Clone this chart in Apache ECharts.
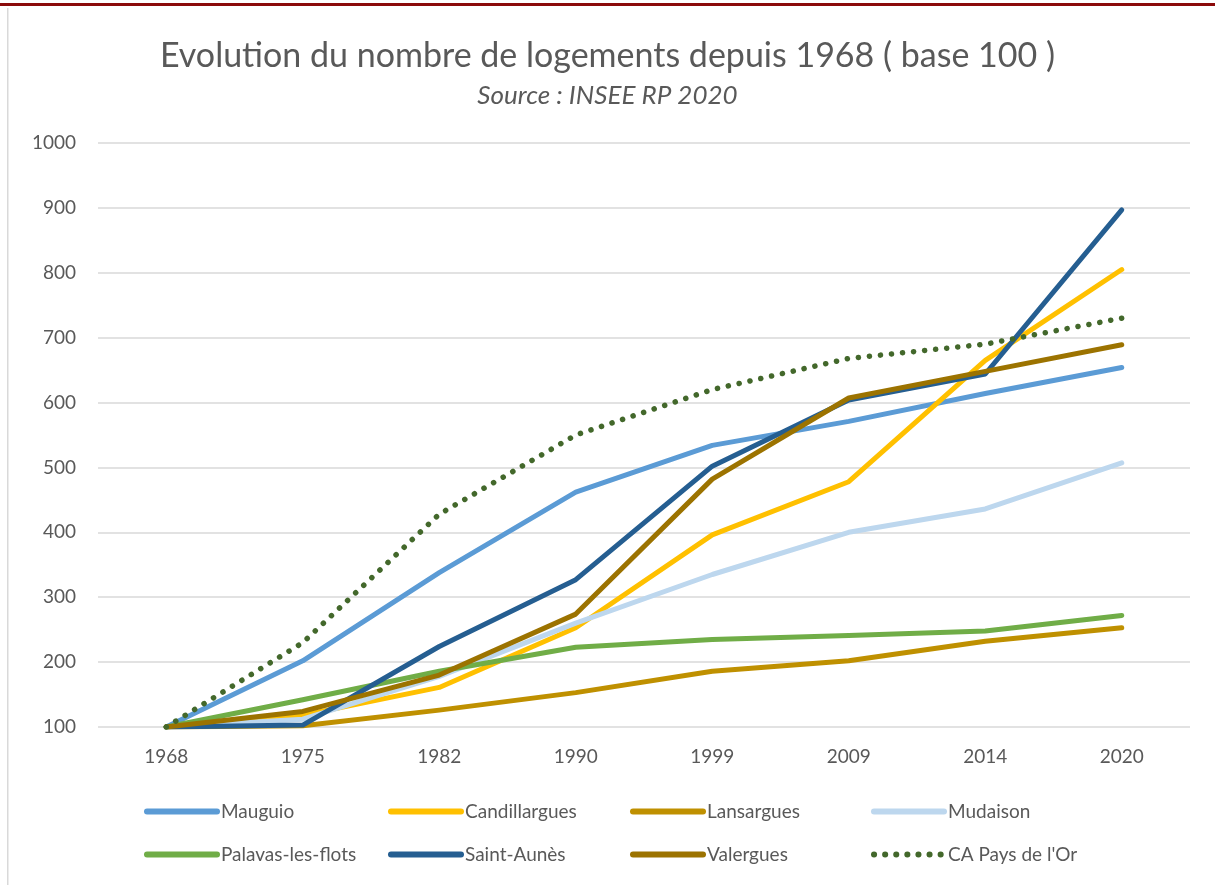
<!DOCTYPE html>
<html lang="fr">
<head>
    <meta charset="UTF-8">
    <title>Evolution du nombre de logements</title>
    <style>
        html, body { margin: 0; padding: 0; background: #fff; }
        #chart { width: 1215px; height: 885px; }
    </style>
</head>
<body>
<div id="chart"></div>
<script src="https://cdn.jsdelivr.net/npm/echarts@6/dist/echarts.min.js"></script>
<script>
    // années du recensement
    const years = ['1968', '1975', '1982', '1990', '1999', '2009', '2014', '2020'];

    // base 100 en 1968
    const mauguio       = [100, 202, 338, 462, 534, 571, 614, 654];
    const candillargues = [100, 118, 161, 253, 396, 478, 665, 805];
    const lansargues    = [100, 102, 126, 153, 186, 202, 232, 253];
    const mudaison      = [100, 112, 178, 260, 335, 400, 436, 507];
    const palavas       = [100, 142, 186, 223, 235, 241, 248, 272];
    const saintAunes    = [100, 103, 224, 327, 502, 604, 644, 897];
    const valergues     = [100, 124, 180, 274, 482, 607, 648, 689];
    const paysDeLOr     = [100, 230, 428, 550, 620, 668, 690, 730];

    const txt = '#595959';
    const font = 'Lato';

    function line(name, data, color, extra) {
        return Object.assign({
            name: name,
            type: 'line',
            data: data,
            symbol: 'none',
            lineStyle: { color: color, width: 5, cap: 'round', join: 'round' },
            itemStyle: { color: color }
        }, extra || {});
    }

    function legendCol(left, names) {
        return {
            orient: 'vertical',
            left: left,
            top: 797,
            itemWidth: 70,
            itemHeight: 14,
            itemGap: 24,
            data: names,
            itemStyle: { opacity: 0 },
            lineStyle: { width: 6, cap: 'round' },
            textStyle: { color: txt, fontSize: 19, fontFamily: font, padding: [0, 0, 0, -1] }
        };
    }

    const chart = echarts.init(document.getElementById('chart'));
    chart.setOption({
        animation: false,
        backgroundColor: '#fff',
        graphic: [
            { type: 'rect', shape: { x: 0, y: 3, width: 1215, height: 3 }, style: { fill: '#8b0a0a' } },
            { type: 'rect', shape: { x: 7, y: 8, width: 1.5, height: 877 }, style: { fill: '#d9d9d9' } }
        ],
        title: {
            text: 'Evolution du nombre de logements depuis 1968 ( base 100 )',
            subtext: 'Source : INSEE RP 2020',
            left: 'center',
            top: 34,
            itemGap: 10,
            textStyle: { color: txt, fontSize: 34, fontWeight: 'normal', fontFamily: font },
            subtextStyle: { color: txt, fontSize: 26, fontStyle: 'italic', fontFamily: font }
        },
        legend: [
            legendCol(139, ['Mauguio', 'Palavas-les-flots']),
            legendCol(383, ['Candillargues', 'Saint-Aunès']),
            legendCol(625, ['Lansargues', 'Valergues']),
            legendCol(866, ['Mudaison', "CA Pays de l'Or"])
        ],
        grid: { left: 98, right: 25, top: 143, bottom: 158, containLabel: false },
        xAxis: {
            type: 'category',
            data: years,
            boundaryGap: true,
            axisLine: { show: false },
            axisTick: { show: false },
            axisLabel: { color: txt, fontSize: 19, fontFamily: font, margin: 20 }
        },
        yAxis: {
            type: 'value',
            min: 100,
            max: 1000,
            interval: 100,
            axisLine: { show: false },
            axisTick: { show: false },
            axisLabel: { color: txt, fontSize: 19, fontFamily: font, margin: 22, formatter: v => String(v) },
            splitLine: { lineStyle: { color: '#d9d9d9', width: 1.5 } }
        },
        series: [
            line('Mauguio', mauguio, '#5b9bd5'),
            line('Candillargues', candillargues, '#ffc000'),
            line('Lansargues', lansargues, '#bf9000'),
            line('Mudaison', mudaison, '#bdd7ee'),
            line('Palavas-les-flots', palavas, '#70ad47'),
            line('Saint-Aunès', saintAunes, '#255e91'),
            line('Valergues', valergues, '#9c7300'),
            line("CA Pays de l'Or", paysDeLOr, '#43682b', {
                lineStyle: { color: '#43682b', width: 5.5, type: [0.1, 11], cap: 'round' }
            })
        ]
    });
</script>
</body>
</html>
